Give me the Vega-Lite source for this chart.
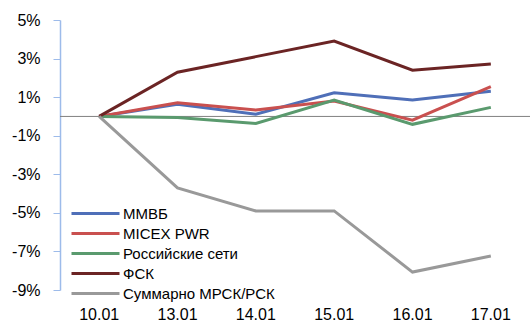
{
  "$schema": "https://vega.github.io/schema/vega-lite/v6.json",
  "width": 470,
  "height": 270,
  "autosize": {"type": "none"},
  "padding": {"left": 60, "top": 20, "right": 0, "bottom": 32},
  "background": "white",
  "config": {"view": {"stroke": null}, "font": "Liberation Sans"},
  "data": {"values": [
    {"d": "10.01", "s": "ММВБ", "v": 0},
    {"d": "13.01", "s": "ММВБ", "v": 0.63},
    {"d": "14.01", "s": "ММВБ", "v": 0.11},
    {"d": "15.01", "s": "ММВБ", "v": 1.23},
    {"d": "16.01", "s": "ММВБ", "v": 0.85},
    {"d": "17.01", "s": "ММВБ", "v": 1.3},
    {"d": "10.01", "s": "MICEX PWR", "v": 0},
    {"d": "13.01", "s": "MICEX PWR", "v": 0.71},
    {"d": "14.01", "s": "MICEX PWR", "v": 0.33},
    {"d": "15.01", "s": "MICEX PWR", "v": 0.8},
    {"d": "16.01", "s": "MICEX PWR", "v": -0.19},
    {"d": "17.01", "s": "MICEX PWR", "v": 1.54},
    {"d": "10.01", "s": "Российские сети", "v": 0},
    {"d": "13.01", "s": "Российские сети", "v": -0.05},
    {"d": "14.01", "s": "Российские сети", "v": -0.36},
    {"d": "15.01", "s": "Российские сети", "v": 0.85},
    {"d": "16.01", "s": "Российские сети", "v": -0.41},
    {"d": "17.01", "s": "Российские сети", "v": 0.47},
    {"d": "10.01", "s": "ФСК", "v": 0},
    {"d": "13.01", "s": "ФСК", "v": 2.29},
    {"d": "14.01", "s": "ФСК", "v": 3.1},
    {"d": "15.01", "s": "ФСК", "v": 3.91},
    {"d": "16.01", "s": "ФСК", "v": 2.4},
    {"d": "17.01", "s": "ФСК", "v": 2.72},
    {"d": "10.01", "s": "Суммарно МРСК/РСК", "v": 0},
    {"d": "13.01", "s": "Суммарно МРСК/РСК", "v": -3.71},
    {"d": "14.01", "s": "Суммарно МРСК/РСК", "v": -4.9},
    {"d": "15.01", "s": "Суммарно МРСК/РСК", "v": -4.9},
    {"d": "16.01", "s": "Суммарно МРСК/РСК", "v": -8.07},
    {"d": "17.01", "s": "Суммарно МРСК/РСК", "v": -7.24}
  ]},
  "layer": [
    {
      "mark": {"type": "rule", "color": "#808080", "strokeWidth": 1},
      "data": {"values": [{"z": 0}]},
      "encoding": {"y": {"field": "z", "type": "quantitative", "scale": {"domain": [-9, 5]}}}
    },
    {
      "mark": {"type": "line", "strokeWidth": 3},
      "encoding": {
        "x": {"field": "d", "type": "nominal", "scale": {"type": "band"},
          "axis": {"title": null, "domain": false, "ticks": false, "labelAngle": 0, "labelFontSize": 16, "labelColor": "#000", "labelPadding": 16}},
        "y": {"field": "v", "type": "quantitative", "scale": {"domain": [-9, 5], "nice": false, "zero": false},
          "axis": {"title": null, "values": [-9, -7, -5, -3, -1, 1, 3, 5], "tickCount": 20, "labelExpr": "datum.value + '%'", "grid": false, "labelOverlap": false,
            "domainColor": "#9dbbea", "domainWidth": 1.5, "tickColor": "#9dbbea", "tickSize": 7, "labelFontSize": 16, "labelColor": "#000", "labelPadding": 13}},
        "color": {"field": "s", "type": "nominal",
          "scale": {"domain": ["ММВБ", "MICEX PWR", "Российские сети", "ФСК", "Суммарно МРСК/РСК"],
            "range": ["#4f6fb8", "#c9504f", "#5a9a6e", "#6b2424", "#999999"]},
          "legend": {"title": null, "orient": "none", "legendX": 10, "legendY": 184, "symbolType": "M-1,0H5", "symbolSize": 256, "symbolStrokeWidth": 3, "symbolFillColor": "transparent", "labelFontSize": 15, "labelColor": "#000", "rowPadding": 2, "labelOffset": 34}}
      }
    }
  ]
}
